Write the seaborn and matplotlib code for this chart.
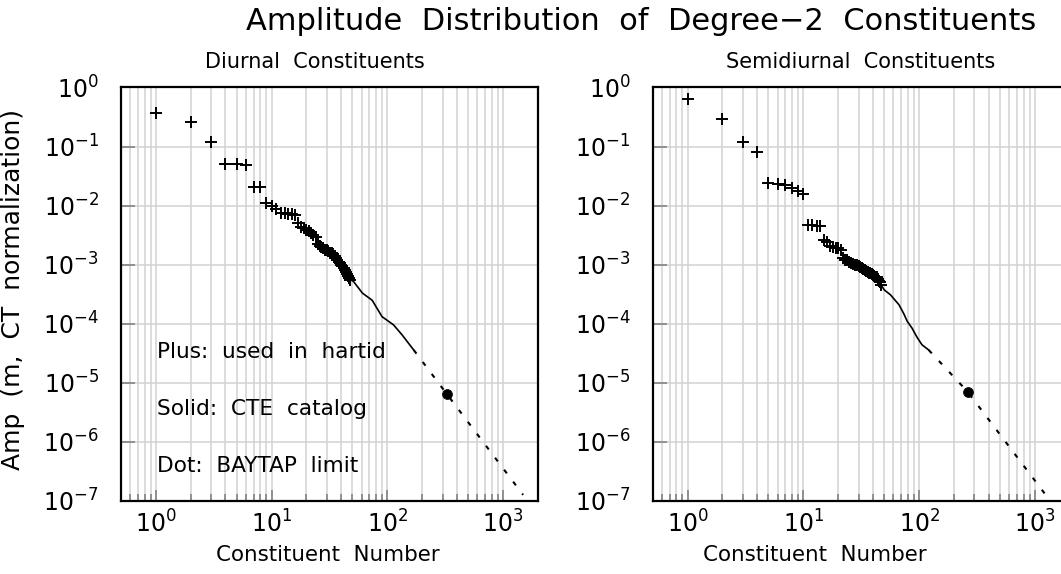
import numpy as np
import matplotlib
matplotlib.use("Agg")
import matplotlib.pyplot as plt
import seaborn as sns
from matplotlib.ticker import FixedLocator, LogLocator, NullFormatter, NullLocator

# ---- DATA ----
# plus markers: amplitude of constituent n = 1, 2, 3, ...
diurnal_amp = [0.366, 0.258, 0.119, 0.050, 0.050, 0.049, 0.0208, 0.0205,
               0.0112, 0.0098, 0.0088, 0.0076, 0.0074, 0.0073, 0.0072, 0.0070,
               0.0050, 0.0044, 0.0041, 0.0039, 0.0037, 0.0035, 0.0032, 0.0029,
               0.0022, 0.0021, 0.0020, 0.0019, 0.0018, 0.0018, 0.0017, 0.0016,
               0.0016, 0.0015, 0.0014, 0.0013, 0.0012, 0.0011, 0.00105, 0.0010,
               0.00095, 0.00088, 0.00082, 0.00076, 0.00070, 0.00065, 0.00060, 0.00056]
semidiurnal_amp = [0.63, 0.29, 0.12, 0.080, 0.0240, 0.0235, 0.0225, 0.0195,
                   0.0180, 0.0160, 0.0047, 0.0047, 0.0046, 0.0045, 0.0026, 0.0024,
                   0.0021, 0.0020, 0.0019, 0.0019, 0.0018, 0.0013, 0.0012, 0.00118,
                   0.00112, 0.00108, 0.00104, 0.00100, 0.00097, 0.00094, 0.00090, 0.00087,
                   0.00084, 0.00081, 0.00078, 0.00076, 0.00073, 0.00071, 0.00069, 0.00067,
                   0.00065, 0.00063, 0.00061, 0.00058, 0.00054, 0.00050, 0.00045]

# solid: CTE catalog tail
diurnal_cte_n = [48, 51, 61, 74, 90, 113, 134, 169]
diurnal_cte_amp = [5.6e-4, 5.2e-4, 3.3e-4, 2.5e-4, 1.32e-4, 9.6e-5, 6.5e-5, 3.6e-5]
semidiurnal_cte_n = [47, 50, 56.5, 67, 73.5, 79, 87, 96, 106, 121]
semidiurnal_cte_amp = [4.5e-4, 3.75e-4, 3.1e-4, 2.1e-4, 1.5e-4, 1.1e-4, 8.4e-5, 5.9e-5, 4.4e-5, 3.6e-5]

# dashed: extrapolation
diurnal_ext_n = [169, 326, 1490]
diurnal_ext_amp = [3.6e-5, 6.5e-6, 1.27e-7]
semidiurnal_ext_n = [121, 262, 1312]
semidiurnal_ext_amp = [3.6e-5, 7.1e-6, 1.1e-7]

# dot: BAYTAP limit
diurnal_dot = (326, 6.5e-6)
semidiurnal_dot = (262, 7.1e-6)

x_decades = [1, 10, 100, 1000]
y_decades = [1e-7, 1e-6, 1e-5, 1e-4, 1e-3, 1e-2, 1e-1, 1]

panel_titles = ["Diurnal  Constituents", "Semidiurnal  Constituents"]
legend_lines = ["Plus:  used  in  hartid", "Solid:  CTE  catalog", "Dot:  BAYTAP  limit"]

# ---- STYLE ----
sns.set_theme(style="white")
plt.rcParams['font.family'] = ['DejaVu Sans']
plt.rcParams['mathtext.fontset'] = 'dejavusans'
plt.rcParams['text.color'] = 'black'
plt.rcParams['xtick.labelcolor'] = 'black'
plt.rcParams['ytick.labelcolor'] = 'black'

fig = plt.figure(figsize=(10.61, 5.74), dpi=100)
ax_l = fig.add_axes([0.1140, 0.1272, 0.3930, 0.7204])
ax_r = fig.add_axes([0.6152, 0.1272, 0.3930, 0.7204])


def draw_panel(ax, amp, cte_n, cte_amp, ext_n, ext_amp, dot):
    ax.set_xscale('log')
    ax.set_yscale('log')
    n = np.arange(1, len(amp) + 1)
    sns.lineplot(x=cte_n, y=cte_amp, ax=ax, color='black', lw=1.2,
                 estimator=None, sort=False)
    sns.lineplot(x=ext_n, y=ext_amp, ax=ax, color='black', lw=1.5,
                 linestyle=(0, (2.2, 5.0)), estimator=None, sort=False)
    sns.scatterplot(x=n, y=amp, ax=ax, marker='+', s=80, color='black', linewidth=1.4)
    sns.scatterplot(x=[dot[0]], y=[dot[1]], ax=ax, marker='o', s=50, color='black',
                    edgecolor='black')

    ax.set_xlim(0.5, 2000)
    ax.set_ylim(1e-7, 1)
    ax.xaxis.set_major_locator(FixedLocator(x_decades))
    ax.xaxis.set_minor_locator(LogLocator(base=10, subs=np.arange(2, 10), numticks=50))
    ax.xaxis.set_minor_formatter(NullFormatter())
    ax.yaxis.set_major_locator(FixedLocator(y_decades))
    ax.yaxis.set_minor_locator(NullLocator())

    ax.set_axisbelow(True)
    ax.grid(True, which='both', axis='x', color='#d2d2d2', lw=1.1)
    ax.grid(True, which='major', axis='y', color='#d2d2d2', lw=1.1)

    ax.tick_params(axis='x', which='major', direction='in', length=8, width=1.3,
                   color='#8a8a8a', labelsize=17, pad=7, bottom=True, top=False)
    ax.tick_params(axis='x', which='minor', direction='in', length=5, width=1.3,
                   color='#8a8a8a', bottom=True, top=False)
    ax.tick_params(axis='y', which='major', direction='in', length=10, width=1.3,
                   color='#8a8a8a', labelsize=17, pad=16, left=True, right=False)
    for sp in ax.spines.values():
        sp.set_color('black')
        sp.set_linewidth(1.6)
    ax.set_xlabel('')
    ax.set_ylabel('')


draw_panel(ax_l, diurnal_amp, diurnal_cte_n, diurnal_cte_amp,
           diurnal_ext_n, diurnal_ext_amp, diurnal_dot)
draw_panel(ax_r, semidiurnal_amp, semidiurnal_cte_n, semidiurnal_cte_amp,
           semidiurnal_ext_n, semidiurnal_ext_amp, semidiurnal_dot)

# panel titles and axis labels
ax_l.text(0.465, 1.062, panel_titles[0], transform=ax_l.transAxes,
          ha='center', va='center', fontsize=15)
ax_r.text(0.499, 1.062, panel_titles[1], transform=ax_r.transAxes,
          ha='center', va='center', fontsize=15)
ax_l.text(0.496, -0.1306, "Constituent  Number", transform=ax_l.transAxes,
          ha='center', va='center', fontsize=15.4)
ax_r.text(0.389, -0.1306, "Constituent  Number", transform=ax_r.transAxes,
          ha='center', va='center', fontsize=15.4)
fig.text(13 / 1061, 1 - 290 / 574, "Amp  (m,  CT  normalization)",
         rotation=90, ha='center', va='center', fontsize=18)

# legend-like notes in the left panel
for txt, yy in zip(legend_lines, [0.360, 0.2225, 0.0846]):
    ax_l.text(0.086, yy, txt, transform=ax_l.transAxes, ha='left', va='center',
              fontsize=15.6)

fig.text(0.604, 0.962, "Amplitude  Distribution  of  Degree\u22122  Constituents",
         ha='center', va='center', fontsize=22)

fig.savefig("out.png", dpi=100, facecolor='white')
